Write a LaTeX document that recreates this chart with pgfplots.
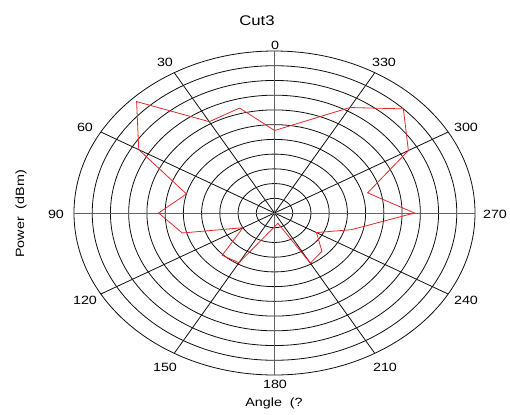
\documentclass[border=0pt]{standalone}
\usepackage{pgfplots}
\pgfplotsset{compat=1.18}
\usepackage{pgfplotstable}
\usepackage{fontspec}
\setmainfont{Liberation Sans}[FakeStretch=1.2]
\definecolor{trace}{RGB}{228,40,44}
\definecolor{gridc}{RGB}{15,15,15}
\definecolor{axc}{RGB}{100,100,100}
\pgfplotstableread{
angle power
0 5.6
15 7.38
30 7.16
45 10.7
60 8.6
75 5.0
90 6.36
105 5.24
120 2.0
135 4.06
150 3.9
195 0.72
210 3.93
225 3.68
240 2.66
255 4.37
270 7.68
285 5.29
300 8.48
315 10.0
330 8.27
360 5.6
}\cutdata
\begin{document}
\begin{tikzpicture}[x=1bp,y=1bp]
\useasboundingbox (-74,-39) rectangle (436,375);
% grid
\foreach \r in {1,...,11}
  \draw[gridc, line width=0.8bp] (200.5,162) ellipse [x radius={\r*18.2273bp}, y radius={\r*14.7273bp}];
\foreach \a in {30,60,120,150}
  \draw[gridc, line width=0.8bp] ({200.5-200.5*cos(\a)},{162-162*sin(\a)}) -- ({200.5+200.5*cos(\a)},{162+162*sin(\a)});
\draw[axc, line width=1bp] (0,162) -- (401,162);
\draw[axc, line width=1bp] (200.5,0) -- (200.5,324);
\begin{axis}[at={(0,0)}, anchor=south west, scale only axis,
  width=401bp, height=324bp, xmin=-11, xmax=11, ymin=-11, ymax=11,
  axis lines=none, clip=false]
\addplot[trace, line width=0.8bp, data cs=polar, mark=none]
  table[x expr=\thisrow{angle}+90, y=power] {\cutdata};
\end{axis}
\begin{scope}[font=\fontsize{12}{14}\selectfont]
\node at (183,354.5) {\fontsize{14}{16}\selectfont Cut3};
\node at (201,330) {0};
\node at (310,313) {330};
\node at (91,313) {30};
\node at (392,248) {300};
\node at (11,248) {60};
\node at (421,161) {270};
\node at (-18,161) {90};
\node at (392,75) {240};
\node at (11,75) {120};
\node at (311,8) {210};
\node at (91,8) {150};
\node at (201,-9) {180};
\node at (200,-28) {Angle\ \ (?};
\node[rotate=90] at (-53,161) {Power\ \ (dBm)};
\end{scope}
\end{tikzpicture}
\end{document}
